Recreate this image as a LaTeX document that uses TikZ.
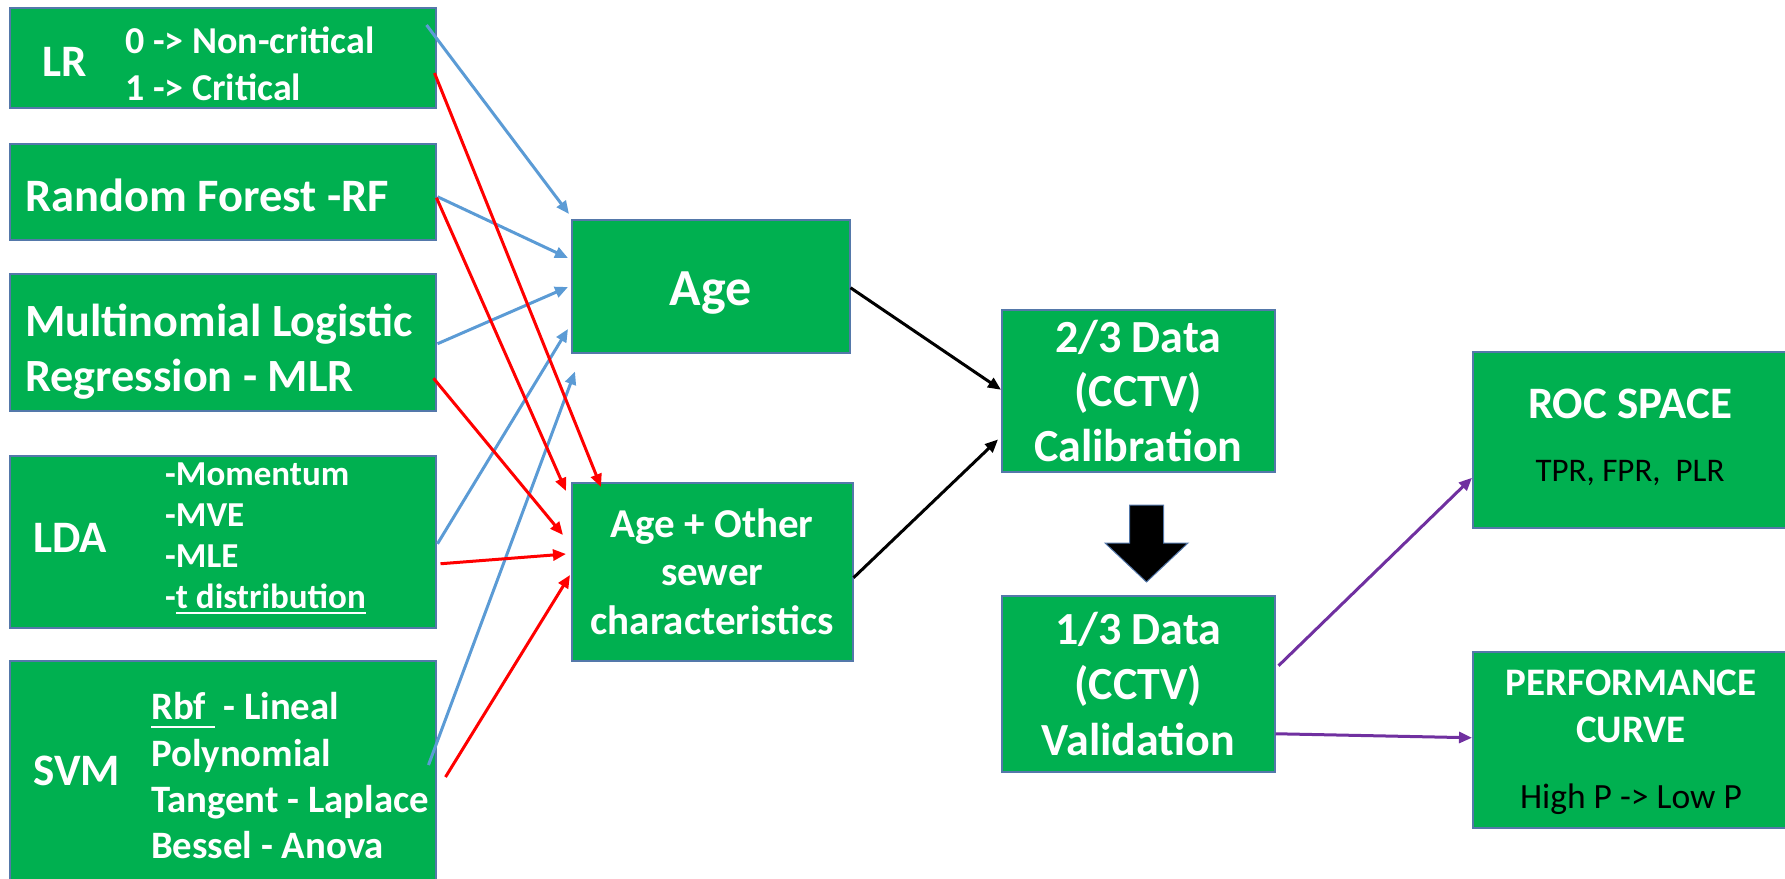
\documentclass[tikz,border=0pt]{standalone}
\usepackage{fontspec}
\setmainfont{Carlito}
\usetikzlibrary{arrows.meta,calc}
\definecolor{ogreen}{RGB}{0,176,80}
\definecolor{edge}{RGB}{84,120,170}
\definecolor{lblue}{RGB}{91,155,213}
\definecolor{pur}{RGB}{112,48,160}
\newcommand\fsz[2]{\fontsize{#1}{#2}\selectfont}
\newsavebox\ulbox
\newcommand\ulin[2]{\sbox\ulbox{#2}\rlap{\rule[-#1pt]{\wd\ulbox}{2.2pt}}\usebox\ulbox}
\begin{document}
\begin{tikzpicture}[x=1pt,y=-1pt,
  box/.style={draw=edge, line width=1.5pt, fill=ogreen, anchor=north west, inner sep=0pt},
  inbox/.style={box, align=center, text=white, font=\bfseries#1},
  lbl/.style={text=white, font=\bfseries#1, anchor=base west, inner sep=0pt},
  clbl/.style={font=#1, anchor=base, inner sep=0pt},
  conn/.style={line width=3pt, -{Triangle[length=13pt,width=11pt]}},
  bluearr/.style={conn, draw=lblue},
  redarr/.style={conn, draw=red},
  blackarr/.style={conn, draw=black},
  purarr/.style={conn, draw=pur}]
\useasboundingbox (0,0) rectangle (1785,878);
\clip (0,0) rectangle (1785,878);

% model boxes on the left
\node[box, minimum width=426, minimum height=100] (lr) at (9,7) {};
\node[box, minimum width=426, minimum height=96] (rf) at (9,143) {};
\node[box, minimum width=426, minimum height=137] (mlr) at (9,273) {};
\node[box, minimum width=426, minimum height=172] (lda) at (9,455) {};
\node[box, minimum width=426, minimum height=240] (svm) at (9,660) {};

\node[lbl=\fsz{45}{54}] (lrname) at (42,76) {LR};
\node[lbl=\fsz{38}{45}] (lr0) at (125,53) {0 -> Non-critical};
\node[lbl=\fsz{38}{45}] (lr1) at (125,100) {1 -> Critical};

\node[lbl=\fsz{46.5}{55}] (rfname) at (25,211) {Random Forest -RF};

\node[lbl=\fsz{46.2}{55}] (mlr1) at (25,336) {Multinomial Logistic};
\node[lbl=\fsz{46.2}{55}] (mlr2) at (25,391) {Regression - MLR};

\node[lbl=\fsz{45}{54}] (ldaname) at (33,552) {LDA};
\node[lbl=\fsz{35}{42}] (lda1) at (165,485) {-Momentum};
\node[lbl=\fsz{35}{42}] (lda2) at (165,526) {-MVE};
\node[lbl=\fsz{35}{42}] (lda3) at (165,567) {-MLE};
\node[lbl=\fsz{35}{42}] (lda4) at (165,608) {-\ulin{6}{t distribution}};

\node[lbl=\fsz{45}{54}] (svmname) at (33,785) {SVM};
\node[lbl=\fsz{38.8}{47}] (svm1) at (151,719) {\ulin{9}{Rbf\ }\ - Lineal};
\node[lbl=\fsz{38.8}{47}] (svm2) at (151,766) {Polynomial};
\node[lbl=\fsz{38.8}{47}] (svm3) at (151,812) {Tangent - Laplace};
\node[lbl=\fsz{38.8}{47}] (svm4) at (151,858) {Bessel - Anova};

% feature sets
\node[inbox=\fsz{52}{62}, minimum width=278, minimum height=133,
      text height=48pt, text depth=10.5pt] (age) at (571,219) {Age};
\node[inbox=\fsz{41}{48.5}, minimum width=281, minimum height=178] (ao) at (571,482)
  {Age + Other\\sewer\\characteristics};

% data split
\node[inbox=\fsz{46}{54.5}, minimum width=273, minimum height=162] (cal) at (1001,309)
  {2/3 Data\\(CCTV)\\Calibration};
\node[inbox=\fsz{46}{55.5}, minimum width=273, minimum height=176] (val) at (1001,595)
  {1/3 Data\\(CCTV)\\Validation};

% evaluation
\node[box, minimum width=330, minimum height=176] (roc) at (1472,351) {};
\node[clbl=\bfseries\fsz{45}{54}, text=white] (roct) at (1630,418) {ROC SPACE};
\node[clbl=\fsz{33}{39}, text=black] (rocs) at (1630,481) {TPR, FPR,\ \ PLR};
\node[box, minimum width=330, minimum height=176] (perf) at (1472,651) {};
\node[clbl=\bfseries\fsz{39}{46}, text=white] (perf1) at (1631,695) {PERFORMANCE};
\node[clbl=\bfseries\fsz{39}{46}, text=white] (perf2) at (1631,742) {CURVE};
\node[clbl=\fsz{35.5}{42}, text=black] (perfs) at (1631,808) {High P -> Low P};

% block arrow from calibration to validation
\fill[black, draw=edge, line width=1pt] (1129.5,505) -- (1163.5,505) -- (1163.5,543) -- (1188,543)
  -- (1146.5,582) -- (1105,543) -- (1129.5,543) -- cycle;

% models to Age
\draw[bluearr] ($(lr.north east)+(-10,18)$) -- ($(age.north west)+(-2,-5)$);
\draw[bluearr] ($(rf.east)+(1,5)$) -- ($(age.north west)+(-3,39)$);
\draw[bluearr] ($(mlr.east)+(1,1.5)$) -- ($(age.north west)+(-3,68)$);
\draw[bluearr] ($(lda.east)+(1,2)$) -- ($(age.north west)+(-3,110)$);
\draw[bluearr] ($(svm.north east)+(-8,105)$) -- ($(age.south west)+(4,18)$);

% models to Age + other characteristics
\draw[redarr] ($(lr.north east)+(-2,66)$) -- ($(ao.north west)+(30,5)$);
\draw[redarr] ($(rf.east)+(0,6)$) -- ($(ao.north west)+(-5,9)$);
\draw[redarr] ($(mlr.east)+(-3,36)$) -- ($(ao.north west)+(-8,53)$);
\draw[redarr] ($(lda.east)+(4,22)$) -- ($(ao.north west)+(-5,72)$);
\draw[redarr] ($(svm.north east)+(9,117)$) -- ($(ao.north west)+(-1,93)$);

% feature sets to calibration
\draw[blackarr] ($(age.east)+(0,1.5)$) -- ($(cal.west)+(0,-1)$);
\draw[blackarr] ($(ao.east)+(0,6)$) -- ($(cal.south west)+(-3,-33)$);

% validation to evaluation
\draw[purarr] ($(val.east)+(3,-18)$) -- ($(roc.west)+(0,38)$);
\draw[purarr] ($(val.east)+(0,50)$) -- ($(perf.west)+(0,-2)$);
\end{tikzpicture}
\end{document}
